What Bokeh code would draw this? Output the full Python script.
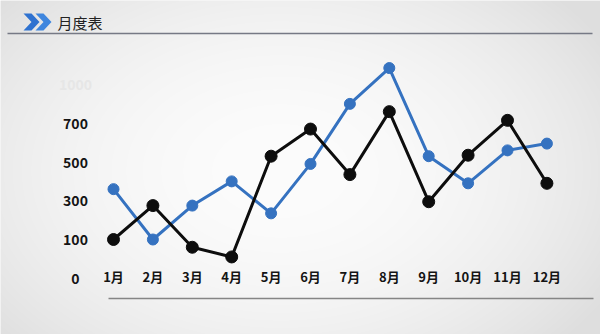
import numpy as np
from bokeh.plotting import figure
from bokeh.models import Range1d, Label, BoxAnnotation, PolyAnnotation, ColumnDataSource
from bokeh.core.properties import value
from bokeh.embed import file_html
from bokeh.resources import INLINE

# ---- data ----
months = [1, 2, 3, 4, 5, 6, 7, 8, 9, 10, 11, 12]
month_labels = ["1月", "2月", "3月", "4月", "5月", "6月", "7月", "8月", "9月", "10月", "11月", "12月"]
series_blue = [360, 100, 275, 400, 235, 490, 800, 985, 530, 390, 560, 595]
series_black = [100, 275, 60, 10, 530, 670, 435, 760, 295, 535, 715, 390]
y_tick_values = [-100, 100, 300, 500, 700, 900]
y_tick_labels = ["0", "100", "300", "500", "700", "1000"]
title_text = "月度表"

W, H = 600, 334
# scale: pixel geometry of the plotting area
X_PX0, X_STEP = 113.0, 39.4        # pixel x of month 1, pixels per month
Y_PX100, Y_PER = 239.0, 0.19375    # pixel y of value 100, pixels per unit

def x_of_px(px):
    return 1 + (px - X_PX0) / X_STEP

def y_of_px(py):
    return 100 + (Y_PX100 - py) / Y_PER

FONT = "Noto Sans CJK SC"

p = figure(width=W, height=H, output_backend="svg", toolbar_location=None,
           x_range=Range1d(x_of_px(0), x_of_px(W)),
           y_range=Range1d(y_of_px(H), y_of_px(0)),
           min_border=0, min_border_left=0, min_border_right=0,
           min_border_top=0, min_border_bottom=0)
p.axis.visible = False
p.grid.visible = False
p.outline_line_color = None
p.background_fill_color = "#f1f1f1"
p.border_fill_color = "#f1f1f1"

# soft radial background
yy, xx = np.mgrid[0:H, 0:W]
r2 = ((xx - 280) / 380.0) ** 2 + ((yy - 170) / 260.0) ** 2
g = np.clip(252 - 30 * r2, 222, 252).astype(np.uint32)
img = (255 << 24) | (g << 16) | (g << 8) | g
img = img[::-1].astype(np.uint32)
p.image_rgba(image=[img], x=x_of_px(0), y=y_of_px(H),
             dw=x_of_px(W) - x_of_px(0), dh=y_of_px(0) - y_of_px(H))

# header
chev = [(23, 13), (31, 13), (39, 21.5), (31, 30), (23, 30), (31, 21.5)]
for dx, col in [(0, "#2f72d0"), (12, "#3f86de")]:
    p.add_layout(PolyAnnotation(xs=[c[0] + dx for c in chev], ys=[H - c[1] for c in chev],
                                xs_units="screen", ys_units="screen",
                                fill_color=col, fill_alpha=1, line_color=None))
p.add_layout(Label(x=57, y=H - 21.5, x_units="screen", y_units="screen", text=title_text,
                   text_font=FONT, text_font_size="15px", text_color="#222222",
                   text_baseline="middle", text_align="left"))
p.add_layout(BoxAnnotation(left=7, right=592, top=H - 32.3, bottom=H - 33.8,
                           left_units="screen", right_units="screen",
                           top_units="screen", bottom_units="screen",
                           fill_color="#767985", fill_alpha=1, line_color=None))
p.add_layout(BoxAnnotation(left=108, right=593, top=H - 297.3, bottom=H - 298.8,
                           left_units="screen", right_units="screen",
                           top_units="screen", bottom_units="screen",
                           fill_color="#858585", fill_alpha=1, line_color=None))

# series
src = ColumnDataSource(dict(m=months, b=series_blue, k=series_black))
p.line("m", "b", source=src, line_color="#3572c0", line_width=3)
p.scatter("m", "b", source=src, size=11, fill_color="#3572c0", line_color="#3572c0")
p.line("m", "k", source=src, line_color="#0d0d0d", line_width=3)
p.scatter("m", "k", source=src, size=12, fill_color="#0d0d0d", line_color="#0d0d0d")

# month labels
p.text(x=months, y=[y_of_px(275.5)] * len(months), text=month_labels,
       text_font=value(FONT), text_font_style="bold", text_font_size="13px",
       text_color="#141414", text_align="center", text_baseline="middle")

# y tick labels
ycols = ["#141414"] * (len(y_tick_values) - 1) + ["#e6e6e6"]
p.text(x=[x_of_px(75)] * len(y_tick_values), y=y_tick_values, text=y_tick_labels,
       text_font=value(FONT), text_font_style="bold", text_font_size="14px",
       text_color=ycols, text_align="center", text_baseline="middle")

open("out.html", "w").write(file_html(p, INLINE))
